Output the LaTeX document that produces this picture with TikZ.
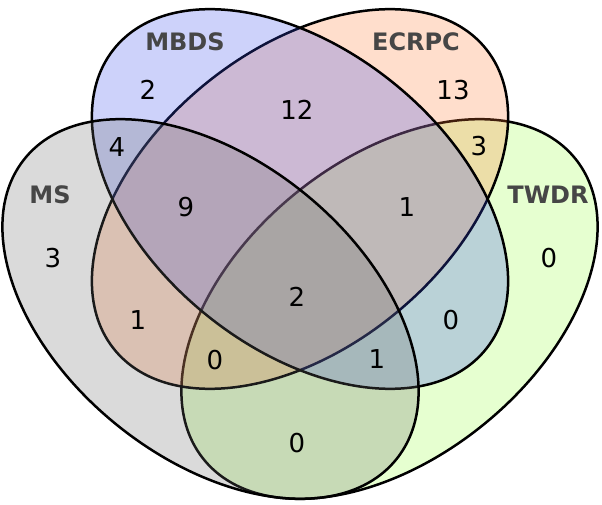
\documentclass[tikz,border=0pt]{standalone}
\usepackage{fontspec}
\setmainfont{DejaVu Sans}
\definecolor{mscol}{RGB}{107,107,107}
\definecolor{mbdscol}{RGB}{55,75,235}
\definecolor{ecrpccol}{RGB}{255,123,51}
\definecolor{twdrcol}{RGB}{155,255,67}
\definecolor{labelgray}{RGB}{70,70,70}
\begin{document}
\begin{tikzpicture}[x=1pt,y=1pt,
  setbody/.style={draw=black, line width=2.5pt, fill opacity=0.25},
  num/.style={inner sep=0pt, font=\fontsize{26}{30}\selectfont, text=black},
  setname/.style={inner sep=0pt, font=\fontsize{24}{28}\selectfont\bfseries, text=labelgray}]
\useasboundingbox (0,0) rectangle (602,504);
% ellipses (drawn in order TWDR, ECRPC, MBDS, MS)
\draw[setbody, fill=twdrcol, rotate around={39:(389.5,195)}] (389.5,195) ellipse [x radius=239pt, y radius=149pt];
\draw[setbody, fill=ecrpccol, rotate around={39:(300,305)}] (300,305) ellipse [x radius=239pt, y radius=149pt];
\draw[setbody, fill=mbdscol, rotate around={-39:(300,305)}] (300,305) ellipse [x radius=239pt, y radius=149pt];
\draw[setbody, fill=mscol, rotate around={-39:(210.5,195)}] (210.5,195) ellipse [x radius=239pt, y radius=149pt];
% set names
\node[setname] (lmbds) at (185,462) {MBDS};
\node[setname] (lecrpc) at (416,462) {ECRPC};
\node[setname] (lms) at (50,309) {MS};
\node[setname] (ltwdr) at (548,309) {TWDR};
% counts
\node[num] (n0100) at (148,414) {2};
\node[num] (n0110) at (297,394) {12};
\node[num] (n0010) at (453,414) {13};
\node[num] (n1100) at (117,357) {4};
\node[num] (n0011) at (479,358) {3};
\node[num] (n1110) at (186,297) {9};
\node[num] (n0111) at (407,297) {1};
\node[num] (n1000) at (53,246) {3};
\node[num] (n0001) at (549,246) {0};
\node[num] (n1010) at (138,184) {1};
\node[num] (n1011) at (215,144) {0};
\node[num] (n1111) at (297,207) {2};
\node[num] (n0101) at (451,184) {0};
\node[num] (n1101) at (377,145) {1};
\node[num] (n1001) at (297,61) {0};
\end{tikzpicture}
\end{document}
